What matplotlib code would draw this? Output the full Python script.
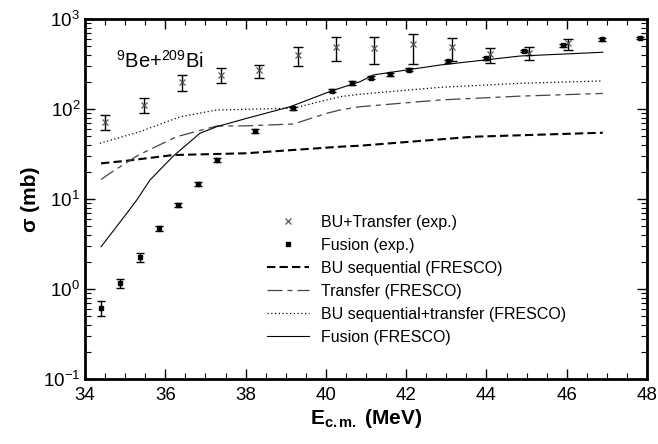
import matplotlib
matplotlib.use("Agg")
import matplotlib.pyplot as plt
from matplotlib.ticker import LogLocator, MultipleLocator, NullFormatter

plt.rcParams['font.family'] = ['Liberation Sans', 'DejaVu Sans']
plt.rcParams['mathtext.fontset'] = 'custom'
plt.rcParams['mathtext.rm'] = 'Liberation Sans'
plt.rcParams['mathtext.it'] = 'Liberation Sans'
plt.rcParams['mathtext.bf'] = 'Liberation Sans:bold'

# Experimental data
bt_E = [34.51, 35.47, 36.42, 37.39, 38.34, 39.30, 40.25, 41.21, 42.17, 43.13, 44.09, 45.05, 46.02]
bt_sig = [72, 111, 201, 239, 271, 398, 492, 480, 524, 492, 408, 422, 537]
bt_lo = [58, 90, 160, 193, 219, 300, 341, 316, 316, 344, 322, 350, 453]
bt_hi = [86, 131, 239, 283, 306, 492, 635, 635, 676, 620, 480, 492, 604]

fus_E = [34.40, 34.88, 35.37, 35.84, 36.31, 36.81, 37.28, 38.24, 39.19, 40.16, 40.66,
         41.13, 41.60, 42.07, 43.03, 43.98, 44.94, 45.91, 46.87, 47.83]
fus_sig = [0.62, 1.16, 2.25, 4.72, 8.58, 14.7, 27.1, 57, 102, 160, 195,
           223, 243, 273, 339, 366, 441, 510, 595, 617]
fus_err = [0.12, 0.13, 0.25, 0.3, 0.4, 0.7, 1.5, 2.5, 4, 6, 8,
           8, 9, 10, 12, 13, 15, 17, 19, 20]

# FRESCO calculations
bus_E = [34.4, 35.0, 36.2, 38.0, 40.35, 40.85, 43.67, 46.9]
bus_sig = [24.9, 26.5, 30.8, 32.2, 38.1, 39.1, 49.2, 54.5]

tr_E = [34.4, 34.62, 35.33, 36.28, 37.28, 38.03, 39.19, 40.02, 40.35, 40.85, 42.84, 44.84, 46.9]
tr_sig = [16.5, 19.3, 30.8, 49.2, 64.7, 65, 68.1, 89.5, 97.5, 106, 126, 139, 149]

bst_E = [34.37, 35.37, 36.37, 37.28, 39.19, 40.35, 40.85, 42.84, 44.84, 46.9]
bst_sig = [41.6, 56, 82, 97.5, 102, 137, 146, 174, 193, 205]

ff_E = [34.40, 35.04, 35.29, 35.62, 36.2, 36.86, 37.28, 38.03, 39.11, 40.16, 40.85, 41.18, 42.84, 44.84, 46.9]
ff_sig = [2.95, 6.93, 9.75, 16.3, 30, 53.7, 63.6, 78.8, 106, 160, 201, 239, 308, 388, 427]

fig = plt.figure(figsize=(6.58, 4.44), dpi=100)
ax = fig.add_axes([0.1292, 0.1464, 0.8541, 0.8108])

ax.errorbar(bt_E, bt_sig,
            yerr=[[s - l for s, l in zip(bt_sig, bt_lo)], [h - s for s, h in zip(bt_sig, bt_hi)]],
            fmt='none', ecolor='black', elinewidth=1.0, capsize=3.5, capthick=1.0)
ax.plot(bt_E, bt_sig, 'x', color='#555555', ms=5, mew=0.9, label='BU+Transfer (exp.)')

ax.errorbar(fus_E, fus_sig, yerr=fus_err, fmt='none', ecolor='black', elinewidth=1.0,
            capsize=3, capthick=1.0)
ax.plot(fus_E, fus_sig, 's', color='black', ms=3, label='Fusion (exp.)')

ax.plot(bus_E, bus_sig, color='black', lw=1.5, dashes=(4, 2), label='BU sequential (FRESCO)')
ax.plot(tr_E, tr_sig, color='#444444', lw=0.9, dashes=(12, 4, 4, 4), label='Transfer (FRESCO)')
ax.plot(bst_E, bst_sig, color='black', lw=0.9, dashes=(1, 2), label='BU sequential+transfer (FRESCO)')
ax.plot(ff_E, ff_sig, color='black', lw=0.8, label='Fusion (FRESCO)')

ax.set_yscale('log')
ax.set_xlim(34, 48)
ax.set_ylim(0.1, 1000)

ax.xaxis.set_major_locator(MultipleLocator(2))
ax.xaxis.set_minor_locator(MultipleLocator(0.5))
ax.yaxis.set_major_locator(LogLocator(base=10, numticks=10))
ax.yaxis.set_minor_locator(LogLocator(base=10, subs=range(2, 10), numticks=20))
ax.yaxis.set_minor_formatter(NullFormatter())

ax.tick_params(which='both', direction='in', top=True, right=True, labelsize=13.5)
ax.tick_params(which='major', length=7, width=1.0)
ax.tick_params(which='minor', length=4, width=0.8)
ax.tick_params(axis='x', pad=6)
for sp in ax.spines.values():
    sp.set_linewidth(2)

ax.set_xlabel(r'E$_{\mathbf{c.m.}}$ (MeV)', fontsize=15, fontweight='bold', labelpad=2)
ax.set_ylabel('σ (mb)', fontsize=15, fontweight='bold', labelpad=2)

ax.text(0.055, 0.865, r'$^{9}$Be+$^{209}$Bi', transform=ax.transAxes, fontsize=14.5,
        ha='left', va='baseline')

leg = ax.legend(loc='lower left', bbox_to_anchor=(0.313, 0.078), frameon=False,
                fontsize=11.5, handlelength=2.6, handletextpad=0.75, labelspacing=0.5,
                borderaxespad=0)

fig.savefig('out.png', dpi=100)
